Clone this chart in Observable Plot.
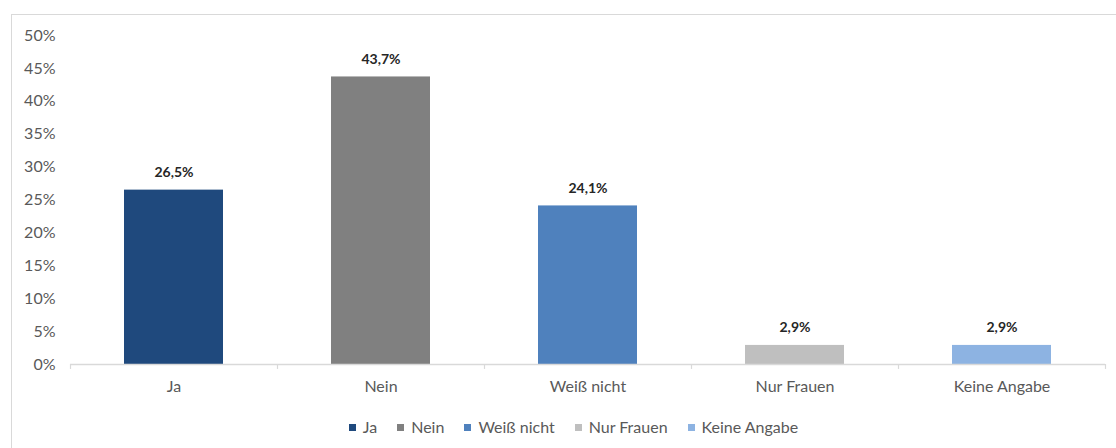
<!DOCTYPE html>
<html>
<head>
<meta charset="utf-8">
<script src="https://cdn.jsdelivr.net/npm/d3@7"></script>
<script src="https://cdn.jsdelivr.net/npm/@observablehq/plot@0.6"></script>
<style>
  html, body { margin: 0; padding: 0; background: #fff; width: 1116px; height: 448px; overflow: hidden; }
  #frame { position: absolute; left: 11px; top: 14px; width: 1120px; height: 450px; border: 1px solid #d9d9d9; box-sizing: border-box; }
  #chart { position: absolute; left: 0; top: 0; }
  #legend { position: absolute; left: 21px; top: 417px; width: 1105px; text-align: center; font-family: Lato, "Open Sans", sans-serif; font-size: 16px; color: #595959; }
  .item { display: inline-block; margin: 0 10px; }
  .sw { display: inline-block; width: 7px; height: 7px; margin-right: 7px; vertical-align: middle; position: relative; top: -1px; }
</style>
</head>
<body>
<div id="frame"></div>
<div id="chart"></div>
<div id="legend"></div>
<script>
const categories = ["Ja", "Nein", "Weiß nicht", "Nur Frauen", "Keine Angabe"];
const values = [26.5, 43.7, 24.1, 2.9, 2.9];
const colors = ["#1f497d", "#808080", "#4f81bd", "#bfbfbf", "#8db3e2"];
const yTicks = [0, 5, 10, 15, 20, 25, 30, 35, 40, 45, 50];

const data = categories.map((c, i) => ({cat: c, value: values[i], color: colors[i]}));
const fmt = v => v.toFixed(1).replace(".", ",") + "%";

const W = 1116, H = 410, mL = 70, mR = 11;
const step = (W - mL - mR) / categories.length;

const plot = Plot.plot({
  width: W,
  height: H,
  marginLeft: mL,
  marginRight: mR,
  marginTop: 35,
  marginBottom: 46,
  style: {fontFamily: "Lato, 'Open Sans', sans-serif", fontSize: "16px", color: "#595959", background: "transparent"},
  x: {domain: categories, paddingInner: 0.52, paddingOuter: 0.26, label: null},
  y: {domain: [0, 50], label: null},
  marks: [
    Plot.axisY({ticks: yTicks, tickSize: 0, tickPadding: 15, tickFormat: d => d + "%", fontSize: 16, fill: "#595959"}),
    Plot.axisX({tickSize: 0, tickPadding: 16, fontSize: 16, fill: "#595959"}),
    Plot.barY(data, {x: "cat", y: "value", fill: "color"}),
    Plot.ruleY([0], {stroke: "#d9d9d9", strokeWidth: 1.5}),
    Plot.ruleX(categories, {x: d => d, dx: -step / 2, y1: 0, y2: -0.75, stroke: "#d9d9d9", strokeWidth: 1.2}),
    Plot.ruleX([categories[categories.length - 1]], {x: d => d, dx: step / 2, y1: 0, y2: -0.75, stroke: "#d9d9d9", strokeWidth: 1.2}),
    Plot.text(data, {x: "cat", y: "value", text: d => fmt(d.value), lineAnchor: "bottom", dy: -13, fontWeight: "bold", fontSize: 14, fill: "#262626"})
  ]
});
document.getElementById("chart").appendChild(plot);

const legend = document.getElementById("legend");
categories.forEach((c, i) => {
  const item = document.createElement("span");
  item.className = "item";
  const sw = document.createElement("span");
  sw.className = "sw";
  sw.style.background = colors[i];
  item.appendChild(sw);
  item.appendChild(document.createTextNode(c));
  legend.appendChild(item);
});
</script>
</body>
</html>
